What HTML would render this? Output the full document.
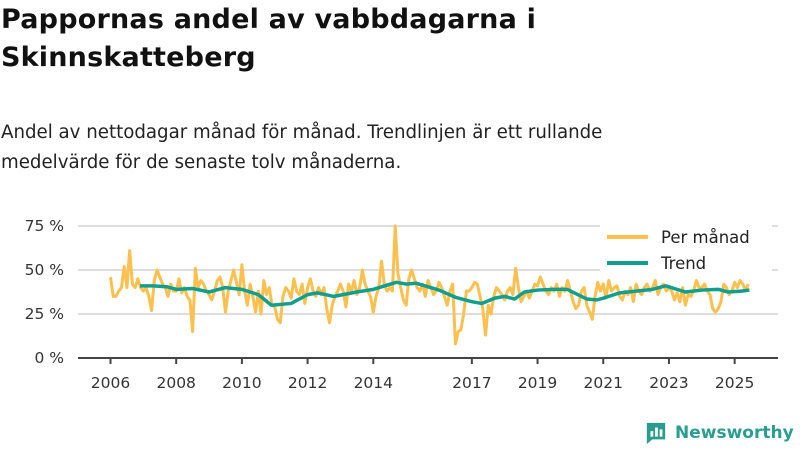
<!DOCTYPE html>
<html><head><meta charset="utf-8">
<style>
body{margin:0;width:800px;height:450px;background:#fff;font-family:"DejaVu Sans","Liberation Sans",sans-serif;color:#111;overflow:hidden;position:relative}
#title{position:absolute;left:1px;top:1px;font-size:27px;font-weight:bold;line-height:38px;margin:0;letter-spacing:0.2px}
#sub{position:absolute;left:1px;top:118px;font-size:18.2px;line-height:30px;color:#222}
#logo{position:absolute;left:645px;top:421px;display:flex;align-items:center;gap:8px;color:#2a9d8f;font-size:17px;font-weight:bold}
svg text{font-family:"DejaVu Sans","Liberation Sans",sans-serif}
</style></head><body>
<h1 id="title">Pappornas andel av vabbdagarna i<br>Skinnskatteberg</h1>
<div id="sub">Andel av nettodagar månad för månad. Trendlinjen är ett rullande<br>medelvärde för de senaste tolv månaderna.</div>
<svg id="chart" width="800" height="450" style="position:absolute;left:0;top:0">
<g id="grid"></g><g id="axes"></g><g id="series"></g>
<g>
<rect x="600" y="222" width="172" height="50" fill="#fff"/>
<line x1="607" y1="237" x2="648" y2="237" stroke="#fdc04e" stroke-width="4"/>
<text x="661" y="243" font-size="16.5" fill="#222">Per månad</text>
<line x1="607" y1="263" x2="648" y2="263" stroke="#129e8f" stroke-width="4"/>
<text x="661" y="269" font-size="16.5" fill="#222">Trend</text>
</g>
</svg>
<div id="logo">
<svg width="22" height="24" viewBox="0 0 24 26"><path d="M2 2h20v18H8l-6 5z" fill="#2a9d8f"/><rect x="6" y="11" width="3" height="6" fill="#fff"/><rect x="11" y="7" width="3" height="10" fill="#fff"/><rect x="16" y="9" width="3" height="8" fill="#fff"/></svg>
<span>Newsworthy</span></div>
<script>
const startYear = 2006;
const monthly = [
46,35,35,38,40,52,40,61,42,40,45,40,
38,40,35,27,44,50,46,42,40,35,42,38,
38,45,37,40,35,33,15,51,40,44,42,38,
36,33,38,44,46,40,26,38,44,50,43,36,
53,38,30,42,35,26,38,25,44,36,40,30,
29,22,20,35,40,38,34,45,38,36,42,31,
40,45,38,35,40,36,40,28,20,30,35,38,
42,38,29,42,38,44,36,40,50,42,38,35,
26,35,40,55,42,38,40,38,75,48,40,33,
30,45,50,45,40,38,42,35,44,40,36,38,
43,40,35,30,38,42,8,15,16,25,38,38,
40,43,42,35,28,13,30,25,35,40,38,36,
33,38,40,36,51,40,32,35,38,34,38,42,
41,46,42,38,36,40,38,42,35,40,38,44,
38,32,28,30,38,40,30,26,22,35,43,38,
42,34,44,38,40,41,35,33,38,36,40,32,
42,38,36,40,42,38,40,44,36,40,42,38,
40,38,33,37,32,40,30,36,35,38,44,40,
40,42,38,36,28,26,28,32,42,40,36,38,
43,40,44,42,38,42];
const trendDates = [2006.9,2007.3,2007.7,2008.0,2008.5,2009.0,2009.5,2010.0,2010.5,2010.9,2011.5,2012.0,2012.3,2012.8,2013.5,2014.0,2014.7,2015.0,2015.3,2016.0,2016.5,2017.0,2017.3,2017.7,2018.0,2018.3,2018.6,2019.0,2019.5,2019.9,2020.5,2020.8,2021.0,2021.5,2022.0,2022.5,2022.9,2023.5,2024.0,2024.5,2024.8,2025.2,2025.45];
const trendValues = [41,41,40.5,39,39.5,37.5,40,39,36,30,31,36,37,35,37.5,39,43,42,42.5,38.6,34.5,32,31,34,35,33.5,37.5,38.6,39,39,33.5,33,34,37,38,39,41,37.5,38.6,39,37.5,38,38.6];
const yTicks = [0,25,50,75];
const xTicks = [2006,2008,2010,2012,2014,2017,2019,2021,2023,2025];

const x = t => 110.5 + (t - 2006) * 32.85;
const y = v => 358 - v * 1.76;
const NS = "http://www.w3.org/2000/svg";
function mk(tag, attrs, parent){const e=document.createElementNS(NS,tag);for(const k in attrs)e.setAttribute(k,attrs[k]);parent.appendChild(e);return e;}
const grid=document.getElementById('grid'), axes=document.getElementById('axes'), series=document.getElementById('series');
yTicks.forEach(v=>{
  if(v>0){const l=mk('line',{x1:78,x2:778,y1:y(v),y2:y(v),stroke:'#ddd','stroke-width':2},grid);
  
  }
  const t=mk('text',{x:64,y:y(v)+5,'text-anchor':'end','font-size':15.5,fill:'#333'},axes);
  t.textContent=v+' %';
  
  
});
const ax=mk('line',{x1:78,x2:778,y1:358,y2:358,stroke:'#444','stroke-width':2},axes);


xTicks.forEach(yr=>{
  const tk=mk('line',{x1:x(yr),x2:x(yr),y1:358,y2:364,stroke:'#444','stroke-width':2},axes);
  
  
  const t=mk('text',{x:x(yr),y:388,'text-anchor':'middle','font-size':15.5,fill:'#333'},axes);
  t.textContent=yr;
  
  
});
const mp=monthly.map((v,i)=>x(startYear+i/12)+','+y(v)).join(' ');
const ml=mk('polyline',{points:mp,fill:'none',stroke:'#fdc04e','stroke-width':3,'stroke-linejoin':'round'},series);


const tp=trendDates.map((d,i)=>x(d)+','+y(trendValues[i])).join(' ');
const tl=mk('polyline',{points:tp,fill:'none',stroke:'#129e8f','stroke-width':3.5,'stroke-linejoin':'round'},series);


</script>
</body></html>
